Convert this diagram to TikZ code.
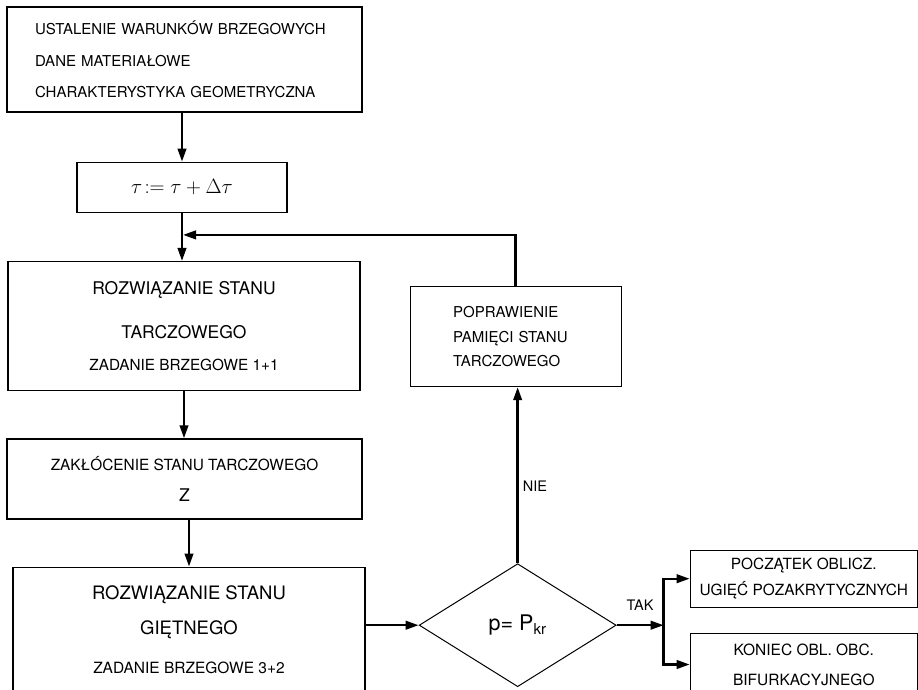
\documentclass[tikz,border=0pt]{standalone}
\usepackage{fontspec}
\setsansfont{TeX Gyre Heros}
\usetikzlibrary{arrows.meta, positioning, shapes.geometric}
\newcommand{\setfs}[2]{\fontsize{#1}{#2}\selectfont}
\tikzset{
  every picture/.style={font=\sffamily, line width=1.3pt},
  box/.style={draw, align=center, inner sep=0pt},
  arrow/.style={-{Triangle[length=13pt, width=8.5pt]}, line width=2.4pt},
  link/.style={line width=2.4pt, line cap=rect},
  tag/.style={font=\sffamily\setfs{14.5}{16}, inner sep=4pt},
}

\begin{document}
\begin{tikzpicture}[x=1pt, y=1pt, node distance=48pt]
  \useasboundingbox (0,0) rectangle (918,-690);
  \node[box, text width=299pt, inner xsep=28pt, minimum height=105pt, align=left, font=\sffamily\setfs{15}{31.5}] (start) at (184.5,-59.5) {USTALENIE WARUNKÓW BRZEGOWYCH\\DANE MATERIAŁOWE\\CHARAKTERYSTYKA GEOMETRYCZNA};
  \node[box, minimum width=210pt, minimum height=50pt, below=49pt of start, xshift=-2.5pt, font=\sffamily\setfs{22}{26}] (tau) {$\tau\!:=\tau + \Delta\tau$};
  \node[box, minimum width=352pt, minimum height=129pt, below=48pt of tau, xshift=2pt, font=\sffamily\setfs{17.5}{44}] (tarcz) {ROZWIĄZANIE STANU\\TARCZOWEGO\\[-12.5pt]{\setfs{15.3}{17}ZADANIE BRZEGOWE 1+1}};
  \node[box, minimum width=355pt, minimum height=80pt, below=47pt of tarcz, xshift=0.5pt, font=\sffamily\setfs{15.4}{31.3}] (zakl) {ZAKŁÓCENIE STANU TARCZOWEGO\\{\setfs{17.5}{20}Z}};
  \node[box, minimum width=352pt, minimum height=125pt, below=47pt of zakl, xshift=4.5pt, font=\sffamily\setfs{18.5}{35}] (giet) {ROZWIĄZANIE STANU\\GIĘTNEGO\\[3.5pt]{\setfs{15.5}{17}ZADANIE BRZEGOWE 3+2}};
  \node[draw, diamond, line width=1pt, minimum width=197pt, minimum height=123pt, inner sep=0pt, right=53pt of giet, yshift=4.5pt, font=\sffamily\setfs{21.5}{24}] (dec) {p= P\textsubscript{kr}};
  \node[box, text width=125pt, inner xsep=43pt, align=left, minimum height=100pt, above=176pt of dec, xshift=-2pt, font=\sffamily\setfs{15}{24.5}] (popr) {POPRAWIENIE\\PAMIĘCI STANU\\TARCZOWEGO};
  \node[box, minimum width=227pt, minimum height=57pt, right=73pt of dec, yshift=46.5pt, font=\sffamily\setfs{15.4}{26}] (pocz) {POCZĄTEK OBLICZ.\\UGIĘĆ POZAKRYTYCZNYCH};
  \node[box, minimum width=227pt, minimum height=62pt, below=25pt of pocz, font=\sffamily\setfs{15.5}{30}] (kon) {KONIEC OBL. OBC.\\BIFURKACYJNEGO};

  \draw[arrow] (start.south -| tau.north) -- (tau.north);
  \draw[arrow] (tau.south) -- (tau.south |- tarcz.north);
  \coordinate[above=51pt of popr.north] (back);
  \draw[arrow, shorten >=1pt] (popr.north) -- (back) -- (back -| tau.south);
  \draw[arrow] (tarcz.south) -- (tarcz.south |- zakl.north);
  \draw[arrow] (zakl.south -| giet.north) -- (giet.north);
  \draw[arrow] (giet.east |- dec.west) -- (dec.west);
  \draw[arrow] (dec.north) -- node[tag, pos=0.44, right] {NIE} (dec.north |- popr.south);
  \coordinate[right=47pt of dec.east] (split);
  \draw[arrow] (dec.east) -- node[tag, above=10pt] {TAK} (split);
  \draw[link] (split |- pocz.west) -- (split |- kon.west);
  \draw[arrow] (split |- pocz.west) -- (pocz.west);
  \draw[arrow] (split |- kon.west) -- (kon.west);
\end{tikzpicture}
\end{document}
